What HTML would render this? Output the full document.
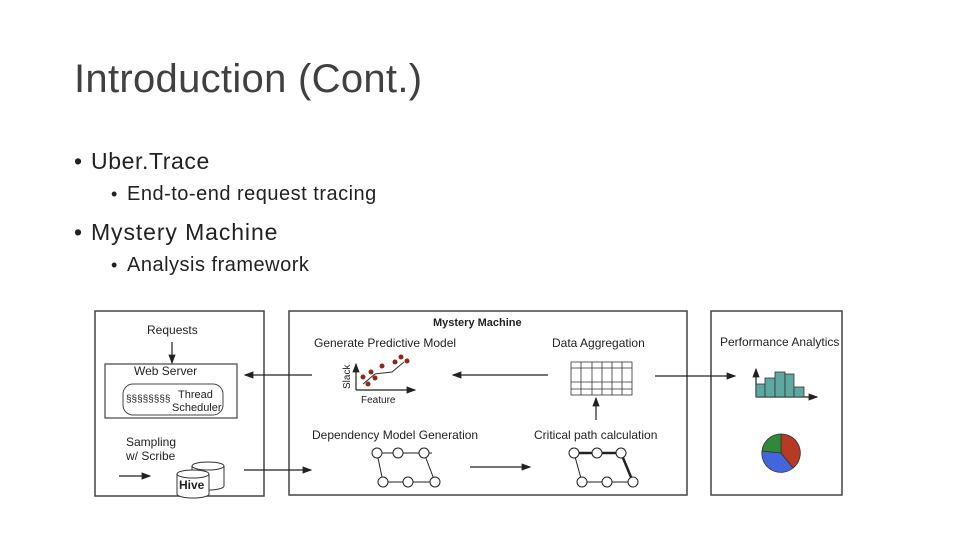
<!DOCTYPE html>
<html><head><meta charset="utf-8"><style>
body{margin:0;width:960px;height:540px;background:#fff;overflow:hidden;font-family:"Liberation Sans",sans-serif;color:#222}
.t{position:absolute;white-space:nowrap}
.b{position:absolute}
</style></head><body>
<div class="t" style="left:74px;top:57px;font-size:40px;color:#404040;letter-spacing:0.3px">Introduction (Cont.)</div>
<div class="t" style="left:74px;top:148px;font-size:23px">•</div><div class="t" style="left:91px;top:148px;font-size:23px;letter-spacing:0.6px">Uber.Trace</div>
<div class="t" style="left:111px;top:184px;font-size:18px">•</div><div class="t" style="left:127px;top:183px;font-size:20px;letter-spacing:0.5px">End-to-end request tracing</div>
<div class="t" style="left:74px;top:219px;font-size:23px">•</div><div class="t" style="left:91px;top:219px;font-size:23px;letter-spacing:0.9px">Mystery Machine</div>
<div class="t" style="left:111px;top:255px;font-size:18px">•</div><div class="t" style="left:127px;top:254px;font-size:20px;letter-spacing:0.5px">Analysis framework</div>
<svg style="position:absolute;left:0;top:0" width="960" height="540" font-family="Liberation Sans, sans-serif" font-size="12">
<defs><marker id="a" markerWidth="8" markerHeight="8" refX="7" refY="4" orient="auto"><path d="M0,1 L8,4 L0,7z" fill="#222"/></marker></defs>
<g fill="none" stroke="#444" stroke-width="1.5">
<rect x="95" y="311" width="169" height="185"/>
<rect x="289" y="311" width="398" height="184"/>
<rect x="711" y="311" width="131" height="184"/>
<rect x="105" y="364" width="132" height="54" stroke-width="1.2"/>
<rect x="123" y="384" width="100" height="31" rx="10" stroke-width="1"/>
</g>
<g fill="#222">
<text x="147" y="334">Requests</text>
<text x="134" y="375">Web Server</text>
<text x="178" y="398" font-size="11">Thread</text>
<text x="172" y="411" font-size="11">Scheduler</text>
<text x="126" y="402" font-size="10">§§§§§§§§</text>
<text x="126" y="446">Sampling</text>
<text x="126" y="460">w/ Scribe</text>
<text x="433" y="326" font-weight="bold" font-size="11">Mystery Machine</text>
<text x="314" y="347">Generate Predictive Model</text>
<text x="552" y="347">Data Aggregation</text>
<text x="312" y="439">Dependency Model Generation</text>
<text x="534" y="439">Critical path calculation</text>
<text x="720" y="346">Performance Analytics</text>
<text x="361" y="403" font-size="10">Feature</text>
<text x="350" y="389" font-size="10" transform="rotate(-90 350 389)">Slack</text>
</g>
<g stroke="#222" stroke-width="1.2" fill="none" marker-end="url(#a)">
<line x1="172" y1="342" x2="172" y2="363"/>
<line x1="312" y1="375" x2="245" y2="375"/>
<line x1="548" y1="375" x2="453" y2="375"/>
<line x1="655" y1="376" x2="735" y2="376"/>
<line x1="596" y1="420" x2="596" y2="398"/>
<line x1="244" y1="470" x2="311" y2="470"/>
<line x1="470" y1="467" x2="530" y2="467"/>
<line x1="119" y1="476" x2="150" y2="476"/>
<line x1="356" y1="390" x2="356" y2="364"/>
<line x1="356" y1="390" x2="415" y2="390"/>
<line x1="756" y1="397" x2="756" y2="369"/>
<line x1="756" y1="397" x2="817" y2="397"/>
</g>
<path d="M363,384 L375,374 L392,372 L404,362" stroke="#333" fill="none"/>
<g fill="#8b2a1a"><circle cx="363" cy="377" r="2.5"/><circle cx="371" cy="372" r="2.5"/><circle cx="375" cy="378" r="2.5"/><circle cx="382" cy="366" r="2.5"/><circle cx="395" cy="362" r="2.5"/><circle cx="401" cy="357" r="2.5"/><circle cx="407" cy="361" r="2.5"/><circle cx="368" cy="384" r="2.5"/></g>
<g stroke="#333" stroke-width="0.8" fill="none">
<rect x="571" y="362" width="61" height="33"/>
<line x1="581" y1="362" x2="581" y2="395"/><line x1="592" y1="362" x2="592" y2="395"/><line x1="602" y1="362" x2="602" y2="395"/><line x1="612" y1="362" x2="612" y2="395"/><line x1="622" y1="362" x2="622" y2="395"/>
<line x1="571" y1="368" x2="632" y2="368"/><line x1="571" y1="382" x2="632" y2="382"/><line x1="571" y1="389" x2="632" y2="389"/>
</g>
<g fill="#5fa8a0" stroke="#333" stroke-width="0.8">
<rect x="756" y="384" width="9" height="13"/><rect x="765" y="378" width="10" height="19"/><rect x="775" y="372" width="10" height="25"/><rect x="785" y="374" width="9" height="23"/><rect x="794" y="387" width="10" height="10"/>
</g>
<g stroke="#333" stroke-width="0.8">
<path d="M781,453 L781,434 A19,19 0 0 1 793,468 Z" fill="#b83a24"/>
<path d="M781,453 L793,468 A19,19 0 0 1 762,451 Z" fill="#4466dd"/>
<path d="M781,453 L762,451 A19,19 0 0 1 781,434 Z" fill="#2e8a3a"/>
</g>
<g stroke="#222" stroke-width="1" fill="#fff">
<line x1="377" y1="453" x2="432" y2="453"/><line x1="383" y1="482" x2="435" y2="482"/>
<line x1="377" y1="453" x2="383" y2="482"/><line x1="424" y1="453" x2="435" y2="482"/>
<circle cx="377" cy="453" r="5"/><circle cx="398" cy="453" r="5"/><circle cx="424" cy="453" r="5"/>
<circle cx="383" cy="482" r="5"/><circle cx="408" cy="482" r="5"/><circle cx="435" cy="482" r="5"/>
<line x1="574" y1="453" x2="621" y2="453" stroke-width="2.5"/><line x1="582" y1="482" x2="633" y2="482"/>
<line x1="574" y1="453" x2="582" y2="482"/><line x1="621" y1="453" x2="633" y2="482" stroke-width="2.5"/>
<circle cx="574" cy="453" r="5"/><circle cx="597" cy="453" r="5"/><circle cx="621" cy="453" r="5"/>
<circle cx="582" cy="482" r="5"/><circle cx="607" cy="482" r="5"/><circle cx="633" cy="482" r="5"/>
</g>
<g stroke="#333" fill="#fff">
<path d="M192,466 v20 a16,4 0 0 0 32,0 v-20"/><ellipse cx="208" cy="466" rx="16" ry="4"/>
<path d="M177,474 v20 a16,4 0 0 0 32,0 v-20"/><ellipse cx="193" cy="474" rx="16" ry="4"/>
</g>
<text x="179" y="489" font-weight="bold" font-size="12" fill="#222">Hive</text>
</svg>
</body></html>
